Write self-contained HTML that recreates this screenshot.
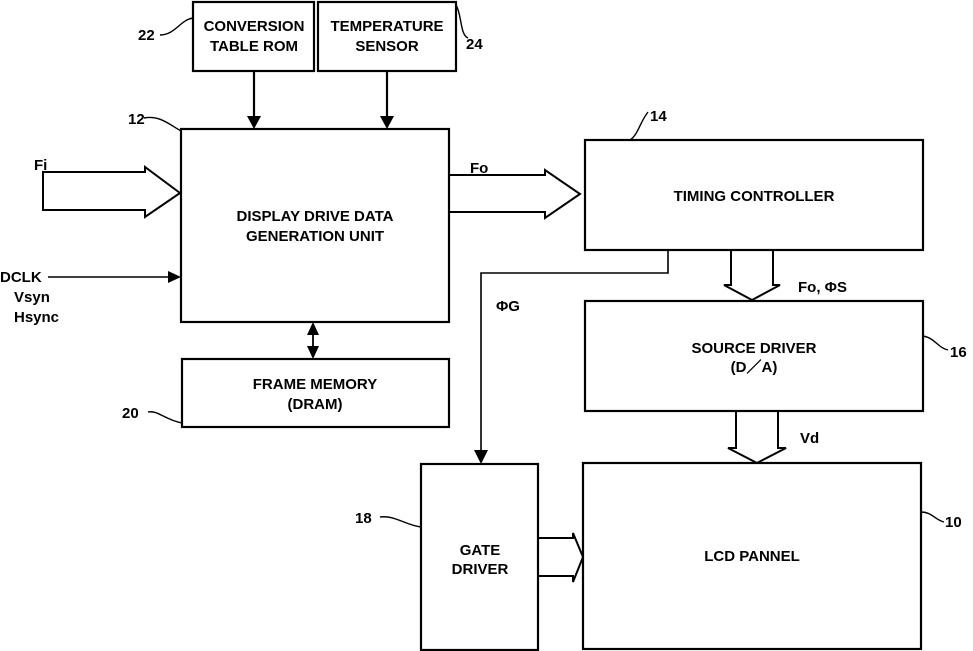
<!DOCTYPE html>
<html><head><meta charset="utf-8"><style>
html,body{margin:0;padding:0;background:#fff;}
svg{display:block;}
text{font-family:"Liberation Sans",Arial,sans-serif;font-size:15px;fill:#000;font-weight:bold;}
</style></head><body>
<svg width="973" height="651" viewBox="0 0 973 651" xmlns="http://www.w3.org/2000/svg">
<g fill="none" stroke="#000" stroke-width="2.2">
<rect x="193" y="2" width="121" height="69"/>
<rect x="318" y="2" width="138" height="69"/>
<rect x="181" y="129" width="268" height="193"/>
<rect x="182" y="359" width="267" height="68"/>
<rect x="585" y="140" width="338" height="110"/>
<rect x="585" y="301" width="338" height="110"/>
<rect x="421" y="464" width="117" height="186"/>
<rect x="583" y="463" width="338" height="186"/>
<!-- arrows from ROM/Temp -->
<line x1="254" y1="71" x2="254" y2="118"/>
<line x1="387" y1="71" x2="387" y2="118"/>
<!-- Fi arrow -->
<polyline points="180,193 145,167 145,172 43,172 43,210 145,210 145,217 180,193" stroke-width="2"/>
<!-- DCLK -->
<line x1="48" y1="277" x2="170" y2="277" stroke-width="1.6"/>
<!-- Fo arrow -->
<polyline points="449,175 545,175 545,170 580,194 545,218 545,212 449,212" stroke-width="2"/>
<!-- double arrow -->
<line x1="313" y1="333" x2="313" y2="348" stroke-width="1.8"/>
<!-- Fo,ΦS -->
<polyline points="731,250 731,285 724,285 752,300 780,285 773,285 773,250" stroke-width="2"/>
<!-- Vd -->
<polyline points="736,411 736,448 728,448 757,463 786,448 778,448 778,411" stroke-width="2"/>
<!-- gate arrow -->
<polyline points="538,538 573,538 573,533 583,557 573,582 573,576 538,576" stroke-width="2"/>
<!-- ΦG -->
<polyline points="668,250 668,273 481,273 481,452" stroke-width="1.6"/>
<!-- label squiggles -->
<path d="M160,35 C175,35 180,20 193,18" stroke-width="1.4"/>
<path d="M456,5 C462,15 460,35 468,38" stroke-width="1.4"/>
<path d="M144,118 C160,115 170,125 181,131" stroke-width="1.4"/>
<path d="M648,112 C640,122 638,135 630,140" stroke-width="1.4"/>
<path d="M923,336 C935,338 938,348 948,350" stroke-width="1.4"/>
<path d="M148,412 C158,410 165,420 182,423" stroke-width="1.4"/>
<path d="M380,517 C395,515 405,525 421,527" stroke-width="1.4"/>
<path d="M921,512 C932,512 935,520 944,522" stroke-width="1.4"/>
</g>
<g fill="#000">
<polygon points="247,116 261,116 254,129"/>
<polygon points="380,116 394,116 387,129"/>
<polygon points="168,271 168,283 181,277"/>
<polygon points="307,335 319,335 313,322"/>
<polygon points="307,346 319,346 313,359"/>
<polygon points="474,450 488,450 481,464"/>
</g>
<g text-anchor="middle">
<text x="254" y="31">CONVERSION</text>
<text x="254" y="51">TABLE ROM</text>
<text x="387" y="31">TEMPERATURE</text>
<text x="387" y="51">SENSOR</text>
<text x="315" y="221">DISPLAY DRIVE DATA</text>
<text x="315" y="241">GENERATION UNIT</text>
<text x="315" y="389">FRAME MEMORY</text>
<text x="315" y="409">(DRAM)</text>
<text x="754" y="201">TIMING CONTROLLER</text>
<text x="754" y="353">SOURCE DRIVER</text>
<text x="754" y="372">(D／A)</text>
<text x="480" y="555">GATE</text>
<text x="480" y="574">DRIVER</text>
<text x="752" y="561">LCD PANNEL</text>
</g>
<text x="34" y="170">Fi</text>
<text x="0" y="282">DCLK</text>
<text x="14" y="302">Vsyn</text>
<text x="14" y="322">Hsync</text>
<text x="470" y="173">Fo</text>
<text x="798" y="292">Fo, ΦS</text>
<text x="496" y="311">ΦG</text>
<text x="800" y="443">Vd</text>
<text x="138" y="40">22</text>
<text x="466" y="49">24</text>
<text x="128" y="124">12</text>
<text x="650" y="121">14</text>
<text x="950" y="357">16</text>
<text x="122" y="418">20</text>
<text x="355" y="523">18</text>
<text x="945" y="527">10</text>
</svg>
</body></html>
